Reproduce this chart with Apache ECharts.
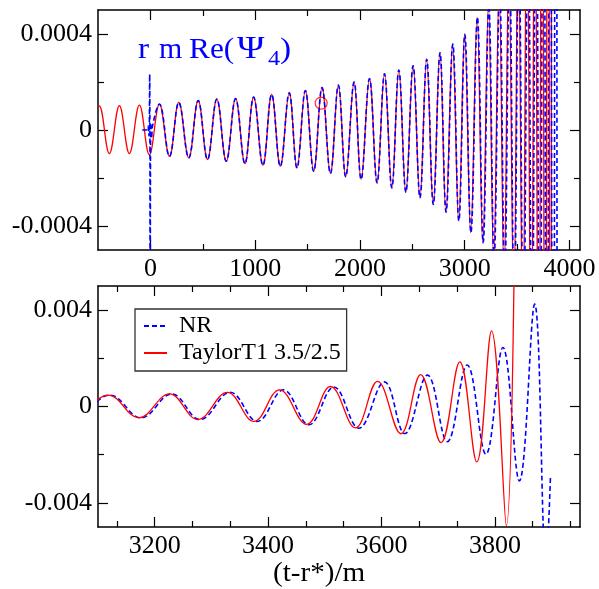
<!DOCTYPE html>
<html><head><meta charset="utf-8">
<script src="https://cdn.jsdelivr.net/npm/echarts@6/dist/echarts.min.js"></script>
<style>html,body{margin:0;padding:0;background:#fff}#c{width:599px;height:589px}</style>
</head><body><div id="c"></div>
<script>
// TaylorT1 3.5/2.5 (red): extrema
const t1T = [-500,-488,-392,-296,-201,-105,-10,
  86,182,271,366,456,545,634,724,813,902,985,1074,1157,1240,1325,1399,1479,1558,1638,1718,
  1794,1864,1944,2011,2091,2163,2234,2304,2371,2438,2507,2572,2636,2699,2763,2820,2884,2942,2999,3057,
  3118,3172,3226,3276,3328,3375,3420,3468,3510,3554,3593,3634,3669,3705,3738,3768,3794,3820,3838];
const t1V = [0.98e-4,1.00e-4,-0.98e-4,1.01e-4,-0.98e-4,1.04e-4,-1.03e-4,
  1.08e-4,-1.10e-4,1.15e-4,-1.16e-4,1.23e-4,-1.23e-4,1.29e-4,-1.30e-4,1.31e-4,-1.40e-4,
  1.37e-4,-1.47e-4,1.48e-4,-1.51e-4,1.55e-4,-1.58e-4,1.64e-4,-1.72e-4,1.77e-4,-1.81e-4,
  1.87e-4,-1.95e-4,2.00e-4,-2.06e-4,2.14e-4,-2.20e-4,2.34e-4,-2.41e-4,2.50e-4,-2.59e-4,
  2.68e-4,-2.82e-4,2.95e-4,-3.10e-4,3.22e-4,-3.42e-4,3.58e-4,-3.79e-4,3.99e-4,-4.28e-4,
  4.7e-4,-4.7e-4,5.2e-4,-5.4e-4,5.9e-4,-6.2e-4,6.9e-4,-7.4e-4,8.3e-4,-8.9e-4,
  10.4e-4,-11.3e-4,13.2e-4,-15.0e-4,18.5e-4,-23.0e-4,31.4e-4,-49.5e-4,160e-4];
// NR (blue dashed)
const nrT = [-78,-38,-24,-14,-7,-2,4,12,22,
  86,182,271,366,456,545,634,724,813,902,985,1074,1157,1240,1325,1399,1479,1558,1638,1718,
  1794,1864,1944,2011,2091,2163,2234,2304,2371,2438,2507,2573,2637,2700,2764,2822,2886,2944,3001,3059,
  3121,3176,3230,3280,3333,3381,3427,3472,3516,3560,3605,3641,3681,3716,3751,3784,3814,3843,3870,3890,3898];
const nrV = [0,0,0.15e-4,-0.25e-4,2.32e-4,-8e-4,0.3e-4,-0.35e-4,0.2e-4,
  1.08e-4,-1.10e-4,1.15e-4,-1.16e-4,1.23e-4,-1.23e-4,1.29e-4,-1.30e-4,1.31e-4,-1.40e-4,
  1.37e-4,-1.47e-4,1.48e-4,-1.51e-4,1.55e-4,-1.58e-4,1.64e-4,-1.72e-4,1.77e-4,-1.81e-4,
  1.87e-4,-1.95e-4,2.00e-4,-2.06e-4,2.14e-4,-2.20e-4,2.34e-4,-2.41e-4,2.50e-4,-2.59e-4,
  2.68e-4,-2.82e-4,2.95e-4,-3.10e-4,3.22e-4,-3.42e-4,3.58e-4,-3.79e-4,3.99e-4,-4.28e-4,
  4.7e-4,-4.7e-4,5.2e-4,-5.4e-4,5.9e-4,-6.2e-4,6.9e-4,-7.6e-4,8.1e-4,-9.0e-4,
  10.2e-4,-11.2e-4,13.0e-4,-14.6e-4,17.2e-4,-19.8e-4,24.5e-4,-30.9e-4,42.5e-4,-65e-4,-28.5e-4];
const markerT = [1630];
const markerV = [1.12e-4];

const topXMajor = [0,1000,2000,3000,4000];
const topXMinor = [500,1500,2500,3500];
const topYMajor = [-0.0004,0,0.0004];
const topYMinor = [-0.0002,0.0002];
const botXMajor = [3200,3400,3600,3800];
const botXMinor = [3133.33,3266.67,3333.33,3466.67,3533.33,3666.67,3733.33,3866.67,3933.33];
const botYMajor = [-0.004,0,0.004];
const botYMinor = [-0.002,0.002];
const seriesNames = ['NR','TaylorT1 3.5/2.5'];
const titleParts = ['r','m','Re(','\u03A8','4',')'];
const xTitle = '(t-r*)/m';

const FONT = '"Liberation Serif", "Times New Roman", serif';
function zip(a,b){ return a.map((x,i)=>[x,b[i]]); }
function axes(kind, gridIndex, min, max, major, minor){
  const pos = kind==='x' ? ['bottom','top'] : ['left','right'];
  const list = [];
  pos.forEach((p,pi)=>{
    [[major,10],[minor,6]].forEach(([vals,len],mi)=>{
      list.push({
        type:'value', gridIndex:gridIndex, position:p, min:min, max:max,
        axisLine:{show: mi===0, onZero:false, lineStyle:{color:'#000', width:1.5}},
        axisTick:{show:true, inside:true, length:len, customValues:vals, lineStyle:{color:'#000', width:1.2}},
        axisLabel:{show: pi===0 && mi===0, customValues:vals, formatter:(v)=>String(v),
          fontFamily:FONT, fontSize:26, color:'#000', margin:6},
        splitLine:{show:false}, splitArea:{show:false}, minorTick:{show:false}
      });
    });
  });
  return list;
}

const chart = echarts.init(document.getElementById('c'), null, {renderer:'canvas'});
const redLine = {color:'#ff0000', width:1.3};
const blueLine = {color:'#0000ff', width:1.6, type:[5,3]};
function txt(s, x, y, size, color, sx){
  return {type:'text', x:x, y:y, scaleX:sx, scaleY:1, originX:0, originY:0,
    style:{text:s, fill:color, font:size+'px "Liberation Serif", serif',
    align:'left', verticalAlign:'middle', textAlign:'left', textVerticalAlign:'middle'}};
}
chart.setOption({
  animation:false,
  backgroundColor:'#fff',
  textStyle:{fontFamily:FONT},
  grid:[{left:98, top:10, width:482, height:240},{left:98, top:286, width:482, height:241}],
  xAxis:[...axes('x',0,-500,4100,topXMajor,topXMinor), ...axes('x',1,3100,3950,botXMajor,botXMinor)],
  yAxis:[...axes('y',0,-0.0005,0.0005,topYMajor,topYMinor), ...axes('y',1,-0.005,0.005,botYMajor,botYMinor)],
  legend:{
    data:seriesNames, orient:'vertical', left:135, top:309,
    backgroundColor:'#fff', borderColor:'#333', borderWidth:1.3, borderRadius:0,
    padding:[5,6,6,8], itemGap:3, itemWidth:23, itemHeight:14,
    itemStyle:{color:'rgba(0,0,0,0)', borderWidth:0, opacity:0},
    textStyle:{fontFamily:FONT, fontSize:24, color:'#000', lineHeight:22, padding:[0,0,0,7]}
  },
  series:[
    {name:seriesNames[1], type:'line', xAxisIndex:0, yAxisIndex:0, data:zip(t1T,t1V), smooth:0.4,
      symbol:'none', lineStyle:redLine, itemStyle:{color:'#ff0000'}, clip:true},
    {name:seriesNames[0], type:'line', xAxisIndex:0, yAxisIndex:0, data:zip(nrT,nrV), smooth:0.4,
      symbol:'none', lineStyle:blueLine, itemStyle:{color:'#0000ff'}, clip:true},
    {name:'marker', type:'scatter', xAxisIndex:0, yAxisIndex:0, data:zip(markerT,markerV),
      symbol:'circle', symbolSize:12, itemStyle:{color:'rgba(0,0,0,0)', borderColor:'#ff0000', borderWidth:1.2}},
    {name:seriesNames[0], type:'line', xAxisIndex:4, yAxisIndex:4, data:zip(nrT,nrV), smooth:0.4,
      symbol:'none', lineStyle:blueLine, itemStyle:{color:'#0000ff'}, clip:true},
    {name:seriesNames[1], type:'line', xAxisIndex:4, yAxisIndex:4, data:zip(t1T,t1V), smooth:0.4,
      symbol:'none', lineStyle:redLine, itemStyle:{color:'#ff0000'}, clip:true}
  ],
  graphic:[
    txt(titleParts[0], 138, 50, 29, '#0000ff', 1.15),
    txt(titleParts[1], 159, 50, 29, '#0000ff', 1.03),
    txt(titleParts[2], 189, 50, 29, '#0000ff', 1.08),
    txt(titleParts[3], 237, 50, 31, '#0000ff', 1.2),
    txt(titleParts[4], 268, 59, 22, '#0000ff', 1.1),
    txt(titleParts[5], 280, 50, 29, '#0000ff', 1.15),
    txt(xTitle, 273, 574, 28, '#000', 1.04)
  ]
});
</script></body></html>
